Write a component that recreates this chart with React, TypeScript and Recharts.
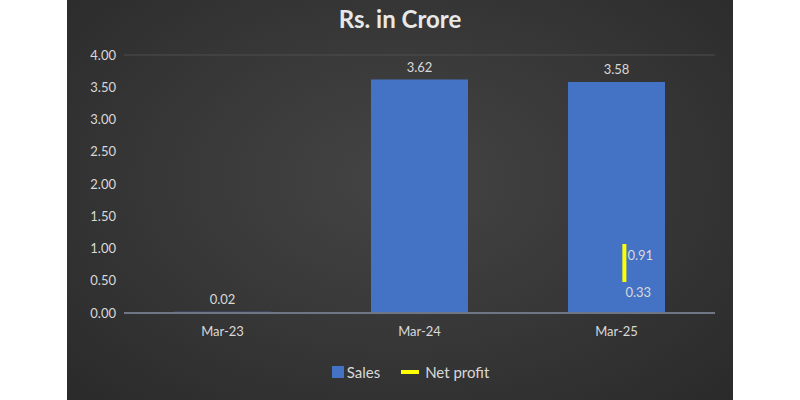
import React from 'react';
import { ComposedChart, Bar, Line, XAxis, YAxis, CartesianGrid, LabelList } from 'recharts';

const categories = ['Mar-23', 'Mar-24', 'Mar-25'];
const sales = [0.02, 3.62, 3.58];
const netProfit = [0.91, 0.33];
const netProfitX = [2.54, 2.54];
const yTicks = [0, 0.5, 1, 1.5, 2, 2.5, 3, 3.5, 4];

const barData = categories.map((c, i) => ({ name: c, sales: sales[i] }));
const lineData = netProfit.map((v, i) => ({ x: netProfitX[i], np: v }));

const FONT = 'Lato, "Open Sans", sans-serif';
const TXT = '#d9d9d9';

const NpLabel = (props: any) => {
  const { x, y, index, value } = props;
  if (index === 0) {
    return (
      <text x={x + 3} y={y + 16} fill={TXT} fontSize={13} fontFamily={FONT}>
        {Number(value).toFixed(2)}
      </text>
    );
  }
  return (
    <text x={x + 1} y={y + 15} fill={TXT} fontSize={13} fontFamily={FONT}>
      {Number(value).toFixed(2)}
    </text>
  );
};

export default function App() {
  return (
    <div style={{ position: 'absolute', left: 0, top: 0, width: 800, height: 400, background: '#ffffff' }}>
      <div
        style={{
          position: 'absolute',
          left: 67,
          top: 0,
          width: 666,
          height: 400,
          background: 'radial-gradient(ellipse at 50% 45%, #444444 0%, #3a3a3a 40%, #2a2a2a 100%)',
        }}
      >
        <div
          style={{
            position: 'absolute',
            top: 4,
            left: 0,
            width: 666,
            textAlign: 'center',
            fontFamily: FONT,
            fontWeight: 700,
            fontSize: 24,
            color: '#e8e8e8',
          }}
        >
          Rs. in Crore
        </div>
        <ComposedChart
          width={666}
          height={400}
          data={barData}
          margin={{ top: 55, right: 18, bottom: 57, left: 0 }}
          style={{ position: 'absolute', left: 0, top: 0 }}
        >
          <CartesianGrid vertical={false} stroke="#4e4e4e" strokeWidth={1} />
          <XAxis
            xAxisId="cat"
            dataKey="name"
            axisLine={{ stroke: '#6f7786', strokeWidth: 2 }}
            tickLine={false}
            tick={{ fill: TXT, fontSize: 13, fontFamily: FONT }}
            tickMargin={8}
          />
          <XAxis xAxisId="num" type="number" dataKey="x" domain={[0, 3]} hide allowDataOverflow />
          <YAxis
            yAxisId="left"
            domain={[0, 4]}
            ticks={yTicks}
            tickFormatter={(v: number) => v.toFixed(2)}
            axisLine={false}
            tickLine={false}
            width={57}
            tick={{ fill: TXT, fontSize: 13, fontFamily: FONT }}
          />
          <YAxis yAxisId="right" orientation="right" domain={[-0.142, 3.79]} hide allowDataOverflow />
          <Bar xAxisId="cat" yAxisId="left" dataKey="sales" fill="#4472C4" barSize={97} isAnimationActive={false}>
            <LabelList
              dataKey="sales"
              position="top"
              offset={8}
              formatter={(v: any) => Number(v).toFixed(2)}
              style={{ fill: TXT, fontSize: 13, fontFamily: FONT }}
            />
          </Bar>
          <Line
            xAxisId="num"
            yAxisId="right"
            data={lineData}
            dataKey="np"
            stroke="#FFFF00"
            strokeWidth={4}
            dot={false}
            activeDot={false}
            isAnimationActive={false}
          >
            <LabelList dataKey="np" content={NpLabel} />
          </Line>
        </ComposedChart>
        <div
          style={{
            position: 'absolute',
            top: 363,
            left: 0,
            width: 666,
            display: 'flex',
            justifyContent: 'center',
            alignItems: 'center',
            fontFamily: FONT,
            fontSize: 15,
            color: TXT,
            paddingLeft: 21,
            boxSizing: 'border-box',
          }}
        >
          <span style={{ display: 'inline-block', width: 12, height: 12, background: '#4472C4', marginRight: 3 }} />
          <span style={{ marginRight: 21 }}>Sales</span>
          <span style={{ display: 'inline-block', width: 18, height: 4, background: '#FFFF00', marginRight: 6 }} />
          <span>Net profit</span>
        </div>
      </div>
    </div>
  );
}
